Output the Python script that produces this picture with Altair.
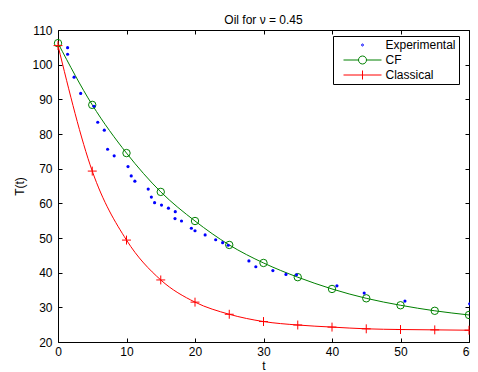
import altair as alt
import pandas as pd

# ---- data ----
t_grid = [0, 5, 10, 15, 20, 25, 30, 35, 40, 45, 50, 55, 60]
cf_vals = [106.2, 88.4, 74.5, 63.3, 54.9, 48.0, 42.8, 38.7, 35.3, 32.6, 30.6, 29.0, 27.8]
classical_vals = [105.5, 69.3, 49.4, 37.9, 31.5, 28.0, 25.9, 24.9, 24.3, 23.8, 23.6, 23.5, 23.4]

exp_t = [1.40, 1.40, 2.35, 3.31, 5.25, 5.80, 6.76, 7.24, 8.20, 10.22, 10.69, 11.22,
         13.17, 13.63, 14.10, 15.11, 16.12, 17.12, 17.08, 18.03, 19.47, 20.0, 21.48,
         23.02, 24.03, 24.85, 27.87, 28.88, 31.37, 33.28, 34.82, 40.72, 44.7, 50.65, 60.1]
exp_T = [104.9, 103.0, 96.4, 91.7, 88.0, 83.4, 81.1, 75.6, 73.7, 70.6, 67.9, 66.4,
         64.1, 61.8, 60.2, 59.5, 58.6, 57.6, 55.6, 54.9, 52.8, 52.1, 50.9,
         49.5, 48.65, 47.9, 43.4, 41.7, 40.6, 39.5, 39.4, 36.2, 34.1, 31.8, 31.0]

series_names = ["Experimental", "CF", "Classical"]
series_colors = ["#0000ff", "#008000", "#ff0000"]
legend_shapes = [
    "M-0.2,0A0.2,0.2 0 1,1 0.2,0A0.2,0.2 0 1,1 -0.2,0Z",
    "M-3.8,0L-0.8,0M0.8,0L3.8,0M-0.8,0A0.8,0.8 0 1,1 0.8,0A0.8,0.8 0 1,1 -0.8,0",
    "M-3.8,0L3.8,0M0,-0.9L0,0.9",
]
x_ticks = [0, 10, 20, 30, 40, 50, 60]
y_ticks = [20, 30, 40, 50, 60, 70, 80, 90, 100, 110]

W, H = 411, 312
FONT = "Liberation Sans"

df_exp = pd.DataFrame({"t": exp_t, "T": exp_T, "series": "Experimental"})
df_cf = pd.DataFrame({"t": t_grid, "T": cf_vals, "series": "CF"})
df_cl = pd.DataFrame({"t": t_grid, "T": classical_vals, "series": "Classical"})
df_all = pd.concat([df_exp, df_cf, df_cl], ignore_index=True)

xscale = alt.Scale(domain=[0, 60], nice=False, zero=False)
yscale = alt.Scale(domain=[20, 110], nice=False, zero=False)
cscale = alt.Scale(domain=series_names, range=series_colors)
sscale = alt.Scale(domain=series_names, range=legend_shapes)


def make_legend():
    return alt.Legend(
        title=None,
        orient="none",
        legendX=275,
        legendY=6,
        padding=3,
        strokeColor="black",
        fillColor="white",
        cornerRadius=0,
        symbolSize=100,
        symbolStrokeWidth=1,
        symbolOpacity=1,
        symbolOffset=20.5,
        labelOffset=17,
        rowPadding=3,
        clipHeight=12,
        labelFont=FONT,
        labelFontSize=12,
        labelColor="black",
        labelExpr="datum.label + '\u00a0\u00a0'",
    )


def x_axis():
    return alt.Axis(values=x_ticks, title="t", ticks=False, domain=False,
                    grid=True, gridColor="black", gridOpacity=1, gridWidth=1,
                    gridDash=[4, H - 8, 4], labelPadding=4, titlePadding=3,
                    labelFont=FONT, labelFontSize=12, labelColor="black",
                    titleFont=FONT, titleFontSize=12, titleFontWeight="normal",
                    titleColor="black", labelFlush=False)


def y_axis():
    return alt.Axis(values=y_ticks, title="T(t)", ticks=False, domain=False,
                    grid=True, gridColor="black", gridOpacity=1, gridWidth=1,
                    gridDash=[4, W - 8, 4], labelPadding=6, titlePadding=5,
                    labelFont=FONT, labelFontSize=12, labelColor="black",
                    titleFont=FONT, titleFontSize=12, titleFontWeight="normal",
                    titleColor="black", labelFlush=False)


def enc_xy():
    return dict(x=alt.X("t:Q", scale=xscale, axis=x_axis()),
                y=alt.Y("T:Q", scale=yscale, axis=y_axis()))


cf_line = alt.Chart(df_cf).mark_line(interpolate="monotone", strokeWidth=1,
                                     color="#008000").encode(**enc_xy())

cl_line = alt.Chart(df_cl).mark_line(interpolate="monotone", strokeWidth=1,
                                     color="#ff0000").encode(**enc_xy())

cf_marks = alt.Chart(df_cf).mark_point(shape="circle", filled=False, size=55,
                                       strokeWidth=1, color="#008000",
                                       opacity=1).encode(**enc_xy())

cl_marks = alt.Chart(df_cl).mark_point(shape="M-1,0L1,0M0,-1L0,1", filled=False, size=80,
                                       strokeWidth=1, color="#ff0000",
                                       opacity=1).encode(**enc_xy())

exp_marks = alt.Chart(df_exp).mark_circle(size=10, color="#0000ff",
                                          opacity=1).encode(**enc_xy())

# invisible layer that only carries the legend
legend_layer = alt.Chart(df_all).mark_point(filled=False, opacity=0, strokeWidth=1).encode(
    color=alt.Color("series:N", scale=cscale, legend=make_legend()),
    shape=alt.Shape("series:N", scale=sscale, legend=make_legend()),
    **enc_xy(),
)

chart = alt.layer(cf_line, cl_line, cf_marks, cl_marks, exp_marks, legend_layer).properties(
    width=W,
    height=H,
    title=alt.TitleParams("Oil for \u03bd = 0.45", font=FONT, fontSize=12,
                          fontWeight="normal", color="black", frame="group",
                          anchor="middle", offset=-3),
    autosize=alt.AutoSizeParams(type="none"),
    padding={"left": 50, "top": 22, "right": 1, "bottom": 30},
    background="white",
).configure_view(stroke="black", strokeWidth=1).configure_legend(strokeWidth=1)

chart.save("out.html", embed_options={"renderer": "svg", "actions": False})
